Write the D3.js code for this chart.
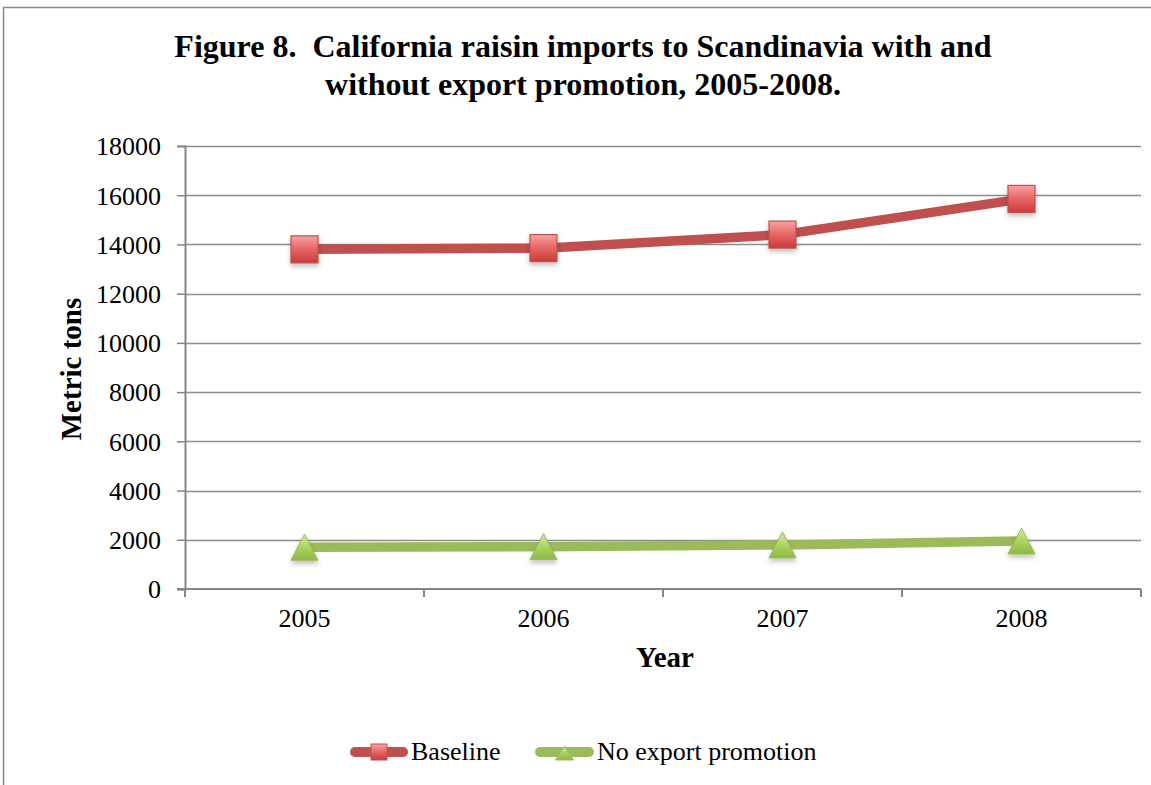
<!DOCTYPE html>
<html>
<head>
<meta charset="utf-8">
<script src="https://cdn.jsdelivr.net/npm/d3@7"></script>
<style>
  html, body { margin: 0; padding: 0; background: #fff; }
  svg { display: block; }
  text { font-family: "Liberation Serif", "Times New Roman", serif; fill: #000; }
</style>
</head>
<body>
<svg id="chart" width="1151" height="785"></svg>
<script>
// Raisin imports (metric tons), 2005-2008
const years = ["2005", "2006", "2007", "2008"];
const baseline = [13800, 13850, 14400, 15850];
const noPromotion = [1700, 1720, 1790, 1950];
const yTicks = [0, 2000, 4000, 6000, 8000, 10000, 12000, 14000, 16000, 18000];
const seriesNames = ["Baseline", "No export promotion"];

const svg = d3.select("#chart");
const W = 1151, H = 785;
const plot = { left: 185, right: 1141, top: 146, bottom: 589 };

const defs = svg.append("defs");
const sqGrad = defs.append("linearGradient").attr("id", "sqGrad")
  .attr("x1", 0).attr("y1", 0).attr("x2", 0).attr("y2", 1);
sqGrad.append("stop").attr("offset", "0%").attr("stop-color", "#f9a3a3");
sqGrad.append("stop").attr("offset", "45%").attr("stop-color", "#e86a6a");
sqGrad.append("stop").attr("offset", "100%").attr("stop-color", "#c83a3a");
const trGrad = defs.append("linearGradient").attr("id", "trGrad")
  .attr("x1", 0).attr("y1", 0).attr("x2", 0).attr("y2", 1);
trGrad.append("stop").attr("offset", "0%").attr("stop-color", "#d2ec9c");
trGrad.append("stop").attr("offset", "55%").attr("stop-color", "#a9d160");
trGrad.append("stop").attr("offset", "100%").attr("stop-color", "#8cb843");
const shadow = defs.append("filter").attr("id", "shadow")
  .attr("x", "-50%").attr("y", "-50%").attr("width", "200%").attr("height", "200%");
shadow.append("feDropShadow").attr("dx", 0).attr("dy", 3).attr("stdDeviation", 2.5)
  .attr("flood-color", "#000").attr("flood-opacity", 0.25);

// Outer frame
svg.append("rect").attr("x", 3.5).attr("y", 7.5).attr("width", W + 10).attr("height", H + 10)
  .attr("fill", "none").attr("stroke", "#8a8a8a").attr("stroke-width", 1.5);

// Title
const title = svg.append("text").attr("text-anchor", "middle")
  .style("font-weight", "bold").style("font-size", "32px").style("white-space", "pre");
title.append("tspan").attr("x", 583).attr("y", 57)
  .text("Figure 8.  California raisin imports to Scandinavia with and");
title.append("tspan").attr("x", 583).attr("y", 95)
  .text("without export promotion, 2005-2008.");

const x = d3.scaleBand().domain(years).range([plot.left, plot.right]);
const y = d3.scaleLinear().domain([0, 18000]).range([plot.bottom, plot.top]);

// Gridlines
svg.append("g").selectAll("line").data(yTicks.filter(d => d > 0)).join("line")
  .attr("x1", plot.left).attr("x2", plot.right)
  .attr("y1", d => Math.round(y(d)) + 0.5).attr("y2", d => Math.round(y(d)) + 0.5)
  .attr("stroke", "#8c8c8c").attr("stroke-width", 1.3);

// Y axis
const yAxis = svg.append("g").attr("transform", `translate(${plot.left},0)`)
  .call(d3.axisLeft(y).tickValues(yTicks).tickSize(8).tickPadding(16).tickFormat(d3.format("d")));
yAxis.select(".domain").attr("stroke", "#868686").attr("stroke-width", 2);
yAxis.selectAll(".tick line").attr("stroke", "#868686").attr("stroke-width", 1.5);
yAxis.selectAll(".tick text").style("font-size", "26px")
  .style("font-family", "Liberation Serif, serif").attr("dy", "0.34em");

// X axis with ticks at category boundaries
const xAxisG = svg.append("g").attr("transform", `translate(0,${plot.bottom})`);
xAxisG.append("line").attr("x1", plot.left - 8).attr("x2", plot.right)
  .attr("y1", 0).attr("y2", 0).attr("stroke", "#868686").attr("stroke-width", 2);
const bounds = years.map(d => x(d)).concat([x(years[years.length - 1]) + x.bandwidth()]);
xAxisG.selectAll("line.tk").data(bounds).join("line").attr("class", "tk")
  .attr("x1", d => d).attr("x2", d => d).attr("y1", 0).attr("y2", 8)
  .attr("stroke", "#868686").attr("stroke-width", 2);
xAxisG.selectAll("text").data(years).join("text")
  .attr("x", d => x(d) + x.bandwidth() / 2).attr("y", 38)
  .attr("text-anchor", "middle").style("font-size", "26px").text(d => d);

// Axis titles
svg.append("text").attr("x", 665).attr("y", 667).attr("text-anchor", "middle")
  .style("font-weight", "bold").style("font-size", "29px").text("Year");
svg.append("text").attr("transform", "translate(81,369) rotate(-90)")
  .attr("text-anchor", "middle").style("font-weight", "bold").style("font-size", "29px")
  .text("Metric tons");

const cx = d => x(d) + x.bandwidth() / 2;
const line = d3.line().x(d => cx(d.year)).y(d => y(d.value));

const series = [
  { name: seriesNames[0], values: baseline, color: "#c0504d", marker: "square" },
  { name: seriesNames[1], values: noPromotion, color: "#9bbb59", marker: "triangle" }
];

const sqSize = 27;
const triPath = (w, h) => `M0,${-h / 2}L${w / 2},${h / 2}L${-w / 2},${h / 2}Z`;

function drawMarker(g, type) {
  if (type === "square") {
    g.append("rect").attr("x", -sqSize / 2).attr("y", -sqSize / 2)
      .attr("width", sqSize).attr("height", sqSize)
      .attr("fill", "url(#sqGrad)").attr("stroke", "#c0504d").attr("stroke-width", 1.2)
      .attr("filter", "url(#shadow)");
  } else {
    g.append("path").attr("d", triPath(27, 26))
      .attr("fill", "url(#trGrad)").attr("stroke", "#9bbb59").attr("stroke-width", 1)
      .attr("stroke-linejoin", "round").attr("filter", "url(#shadow)");
  }
}

series.forEach(s => {
  const pts = years.map((yr, i) => ({ year: yr, value: s.values[i] }));
  svg.append("path").datum(pts).attr("d", line)
    .attr("fill", "none").attr("stroke", s.color).attr("stroke-width", 9.5)
    .attr("stroke-linejoin", "round").attr("stroke-linecap", "round");
  svg.append("g").selectAll("g").data(pts).join("g")
    .attr("transform", d => `translate(${cx(d.year)},${y(d.value)})`)
    .each(function () { drawMarker(d3.select(this), s.marker); });
});

// Legend
const legendItems = [
  { s: series[0], x0: 355, x1: 403, tx: 411 },
  { s: series[1], x0: 540, x1: 589, tx: 597 }
];
legendItems.forEach(it => {
  const g = svg.append("g");
  g.append("line").attr("x1", it.x0).attr("x2", it.x1).attr("y1", 752).attr("y2", 752)
    .attr("stroke", it.s.color).attr("stroke-width", 10).attr("stroke-linecap", "round");
  const m = g.append("g").attr("transform", `translate(${(it.x0 + it.x1) / 2},752)`);
  if (it.s.marker === "square") {
    m.append("rect").attr("x", -8).attr("y", -8).attr("width", 16).attr("height", 16)
      .attr("fill", "url(#sqGrad)").attr("stroke", "#c0504d").attr("stroke-width", 1);
  } else {
    m.append("path").attr("d", triPath(18, 14)).attr("transform", "translate(0,1)")
      .attr("fill", "url(#trGrad)").attr("stroke", "#9bbb59").attr("stroke-width", 1);
  }
  g.append("text").attr("x", it.tx).attr("y", 760).style("font-size", "26px").text(it.s.name);
});
</script>
</body>
</html>
